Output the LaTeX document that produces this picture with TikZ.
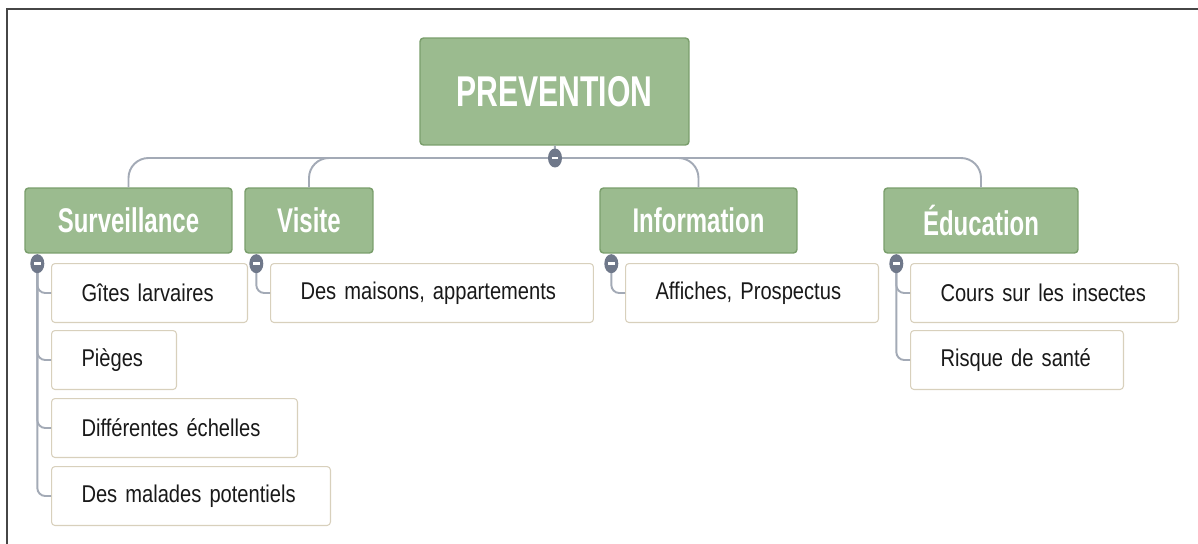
\documentclass[tikz,border=0pt]{standalone}
\usepackage{fontspec}
\setmainfont{Liberation Sans}[FakeStretch=0.83]
\newfontfamily\headfont{Liberation Sans}[FakeStretch=0.7]
\usetikzlibrary{shapes.geometric, positioning, calc}
\usepackage{xcolor}

\definecolor{mapgreen}{RGB}{155,187,143}
\definecolor{mapgreenedge}{RGB}{122,158,108}
\definecolor{subedge}{RGB}{216,208,188}
\definecolor{linkgray}{RGB}{163,170,182}
\definecolor{knobgray}{RGB}{111,120,138}
\definecolor{framegray}{RGB}{70,70,70}

\newcommand{\knobminus}{\textcolor{white}{\rule[0.2pt]{3.8pt}{1.4pt}}}
\newcommand{\leaffont}{\fontsize{13.8}{16}\selectfont\spaceskip=0.2em plus 0.05em\relax}

\begin{document}
\begin{tikzpicture}[
  x=0.02cm, y=-0.02cm,
  rootbox/.style={rectangle, draw=mapgreenedge, fill=mapgreen, rounded corners=2pt,
    thick, minimum width=5.38cm, minimum height=2.14cm, text=white,
    font=\headfont\fontsize{24.5}{28}\selectfont\bfseries},
  mainbox/.style={rectangle, draw=mapgreenedge, fill=mapgreen, rounded corners=2pt,
    thick, minimum height=1.30cm, text=white, inner sep=0pt,
    font=\headfont\fontsize{19.5}{23}\selectfont\bfseries},
  subbox/.style={rectangle, draw=subedge, fill=white, rounded corners=2pt,
    semithick, minimum height=1.18cm, inner xsep=0.6cm, inner ysep=0pt,
    text width=#1, align=left, text=black!90, font=\leaffont},
  link/.style={draw=linkgray, line width=1.1pt},
  knob/.style={ellipse, fill=knobgray, minimum width=0.28cm, minimum height=0.38cm,
    inner sep=0pt}
]
\useasboundingbox (0,0) rectangle (1198,544);
\draw[framegray, line width=1.2pt] (1198,9) -- (7,9) -- (7,544);

% top level
\node[rootbox] (prev) at (554.5,91.5) {PREVENTION};
\node[mainbox, minimum width=4.14cm] (surv) at (128.5,220.5) {Surveillance};
\node[mainbox, minimum width=2.56cm] (visite) at (309,220.5) {Visite};
\node[mainbox, minimum width=3.94cm] (info) at (698.5,220.5) {Information};
\node[mainbox, minimum width=3.88cm] (educ) at (981,220.5) {Éducation};

% leaves
\node[subbox=2.72cm, anchor=north west] (g1) at (51,263) {Gîtes larvaires};
\node[subbox=1.30cm, anchor=north west] (g2) at (51,330) {Pièges};
\node[subbox=3.72cm, anchor=north west] (g3) at (51,398) {Différentes échelles};
\node[subbox=4.38cm, anchor=north west] (g4) at (51,466) {Des malades potentiels};
\node[subbox=5.26cm, anchor=north west] (v1) at (270,263) {Des maisons, appartements};
\node[subbox=3.86cm, anchor=north west] (i1) at (625,263) {Affiches, Prospectus};
\node[subbox=4.16cm, anchor=north west] (e1) at (910,263) {Cours sur les insectes};
\node[subbox=3.06cm, anchor=north west] (e2) at (910,330) {Risque de santé};

% knob points
\coordinate (kp) at (555,158);
\coordinate (ks) at ([shift={(13,10)}]surv.south west);
\coordinate (kv) at ([shift={(12,10)}]visite.south west);
\coordinate (ki) at ([shift={(12,10)}]info.south west);
\coordinate (ke) at ([shift={(13,10)}]educ.south west);

% links
\draw[link] (prev) -- (kp);
\foreach \c in {surv,visite,info,educ}
  \draw[link, rounded corners=0.4cm] (kp) -| (\c.north);
\foreach \s in {g1,g2,g3,g4}
  \draw[link, rounded corners=0.16cm] (ks) |- (\s.west);
\draw[link, rounded corners=0.16cm] (kv) |- (v1.west);
\draw[link, rounded corners=0.16cm] (ki) |- (i1.west);
\foreach \s in {e1,e2}
  \draw[link, rounded corners=0.16cm] (ke) |- (\s.west);

% knobs
\foreach \k in {kp,ks,kv,ki,ke}
  \node[knob] (\k dot) at (\k) {\knobminus};

\end{tikzpicture}
\end{document}
